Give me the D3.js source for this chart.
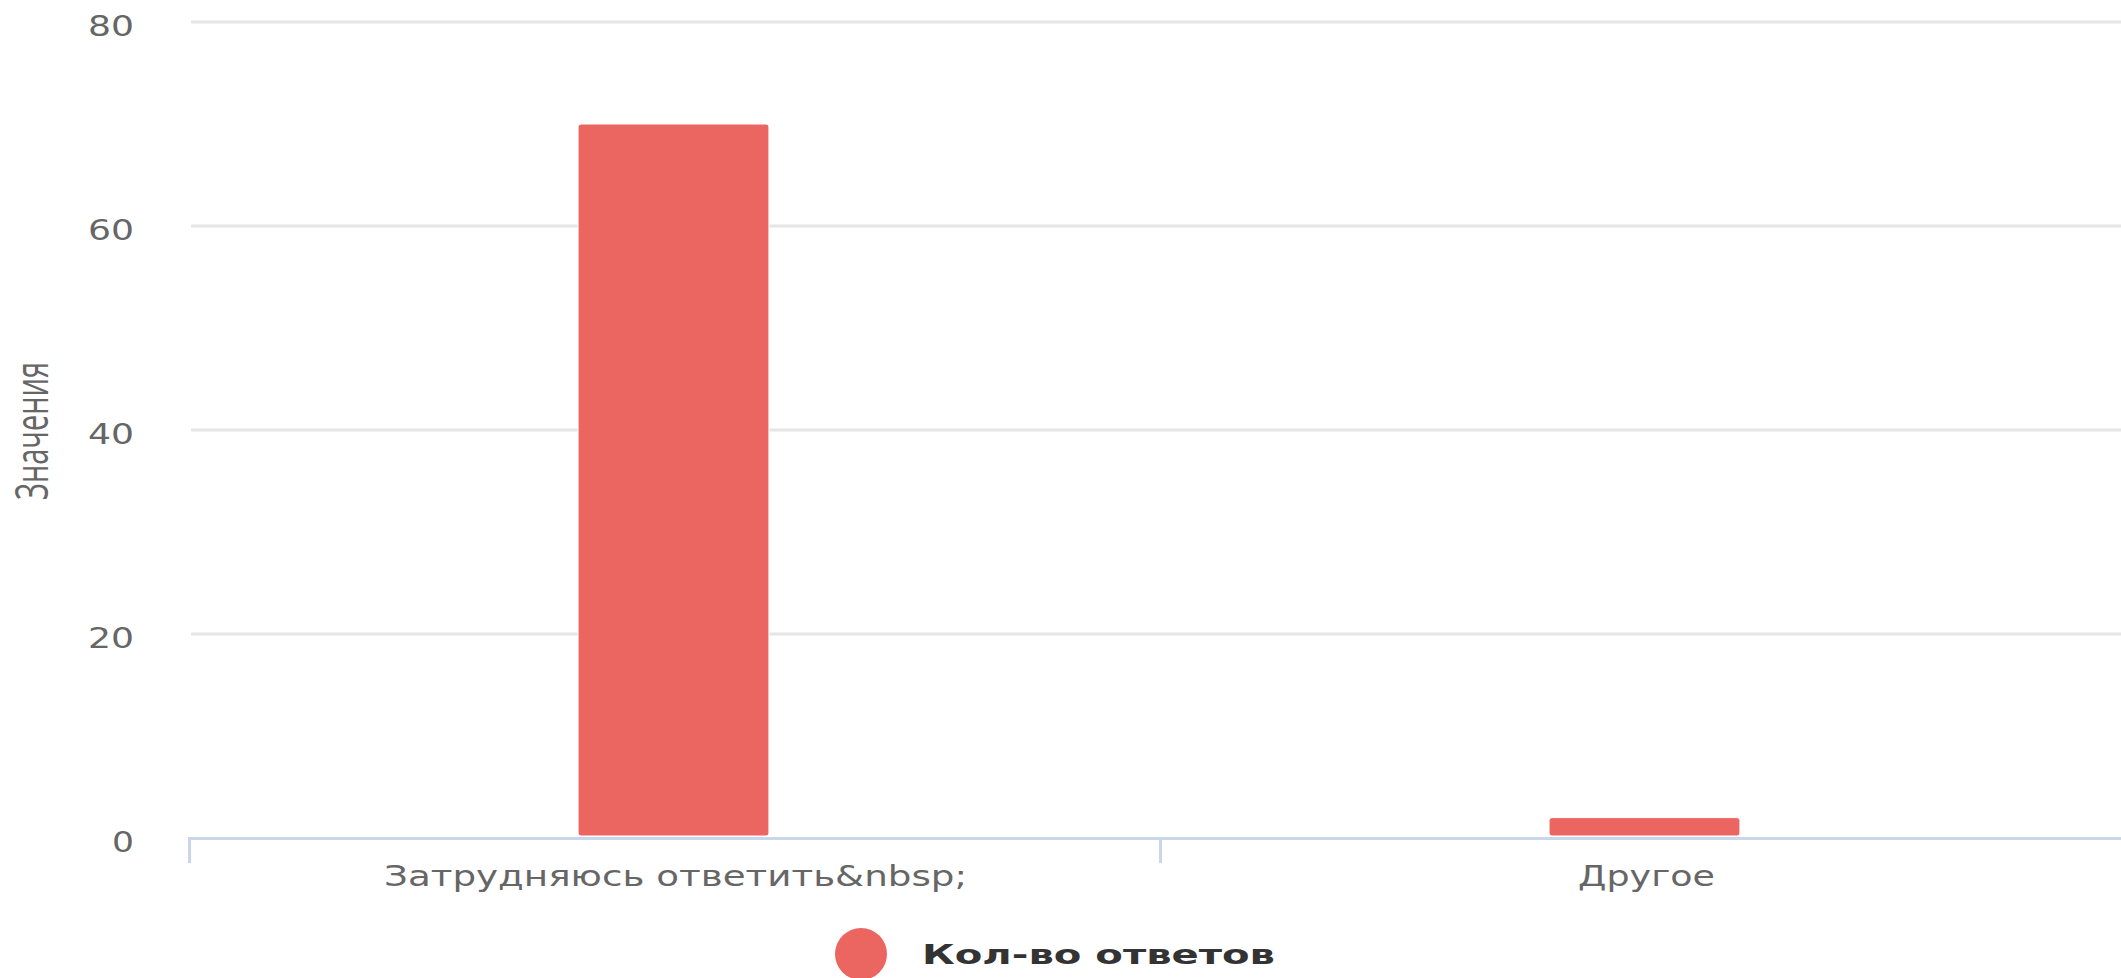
<!DOCTYPE html>
<html>
<head>
<meta charset="utf-8">
<script src="https://cdnjs.cloudflare.com/ajax/libs/d3/7.8.5/d3.min.js"></script>
<style>
  html, body { margin: 0; padding: 0; background: #fff; overflow: hidden; }
  svg { display: block; }
</style>
</head>
<body>
<svg id="chart" width="2121" height="978"></svg>
<script>
// ---- data ----
const categories = ["Затрудняюсь ответить&nbsp;", "Другое"];
const seriesNames = ["Кол-во ответов"];
const seriesValues = [70, 2];
const yTicks = [0, 20, 40, 60, 80];
const yTitle = "Значения";

// ---- layout / style ----
const W = 2121, H = 978;
const plot = { left: 188, right: 2130, top: 22, bottom: 838 };
const barColor = "#ec6661";
const fontMain = "'DejaVu Sans', 'Liberation Sans', sans-serif";

const svg = d3.select("#chart");

const x = d3.scaleBand().domain(categories).range([plot.left, plot.right]).padding(0);
const inner = d3.scaleBand().domain(seriesNames).range([0, x.bandwidth()]).padding(0.6714);
const y = d3.scaleLinear().domain([0, 80]).range([plot.bottom, plot.top]);

// gridlines
svg.append("g").selectAll("line").data(yTicks.filter(t => t !== 0)).join("line")
  .attr("x1", 191).attr("x2", W)
  .attr("y1", d => y(d)).attr("y2", d => y(d))
  .attr("stroke", "#e6e6e6").attr("stroke-width", 3);

// y tick labels
const tickLen = { 0: 22, 20: 46, 40: 46, 60: 46, 80: 46 };
svg.append("g").selectAll("text").data(yTicks).join("text")
  .attr("x", 134).attr("y", d => y(d) + 14)
  .attr("text-anchor", "end")
  .attr("font-family", fontMain).attr("font-size", 28)
  .attr("fill", "#666")
  .attr("textLength", d => tickLen[d]).attr("lengthAdjust", "spacingAndGlyphs")
  .text(d => d);

// y title
svg.append("text")
  .attr("transform", `translate(48, 431) rotate(-90)`)
  .attr("text-anchor", "middle")
  .attr("font-family", "'Open Sans', sans-serif").attr("font-size", 46)
  .attr("fill", "#666")
  .attr("textLength", 138).attr("lengthAdjust", "spacingAndGlyphs")
  .text(yTitle);

// bars
svg.append("g").selectAll("rect").data(seriesValues).join("rect")
  .attr("x", (d, i) => x(categories[i]) + inner(seriesNames[0]))
  .attr("width", inner.bandwidth())
  .attr("y", d => y(d))
  .attr("height", d => y(0) - y(d) - 2)
  .attr("rx", 3).attr("ry", 3)
  .attr("fill", barColor)
  .attr("stroke", "#fff").attr("stroke-width", 1);

// x axis line
svg.append("line")
  .attr("x1", plot.left).attr("x2", W)
  .attr("y1", plot.bottom + 0.5).attr("y2", plot.bottom + 0.5)
  .attr("stroke", "#ccd6eb").attr("stroke-width", 3);

// x ticks at category boundaries
const boundaries = categories.map(c => x(c)).concat([plot.right]);
svg.append("g").selectAll("line").data(boundaries).join("line")
  .attr("x1", d => d + 1.5).attr("x2", d => d + 1.5)
  .attr("y1", plot.bottom).attr("y2", plot.bottom + 25)
  .attr("stroke", "#ccd6eb").attr("stroke-width", 3);

// x labels
const xLabelLen = [583, 137];
svg.append("g").selectAll("text").data(categories).join("text")
  .attr("x", d => x(d) + x.bandwidth() / 2 + 2)
  .attr("y", 886)
  .attr("text-anchor", "middle")
  .attr("font-family", fontMain).attr("font-size", 29)
  .attr("fill", "#666")
  .attr("textLength", (d, i) => xLabelLen[i]).attr("lengthAdjust", "spacingAndGlyphs")
  .text(d => d);

// legend
const lg = svg.append("g");
lg.append("circle").attr("cx", 861).attr("cy", 954).attr("r", 26).attr("fill", barColor);
lg.append("text")
  .attr("x", 922).attr("y", 964)
  .attr("font-family", fontMain).attr("font-size", 27).attr("font-weight", "bold")
  .attr("fill", "#333")
  .attr("textLength", 353).attr("lengthAdjust", "spacingAndGlyphs")
  .text(seriesNames[0]);
</script>
</body>
</html>
